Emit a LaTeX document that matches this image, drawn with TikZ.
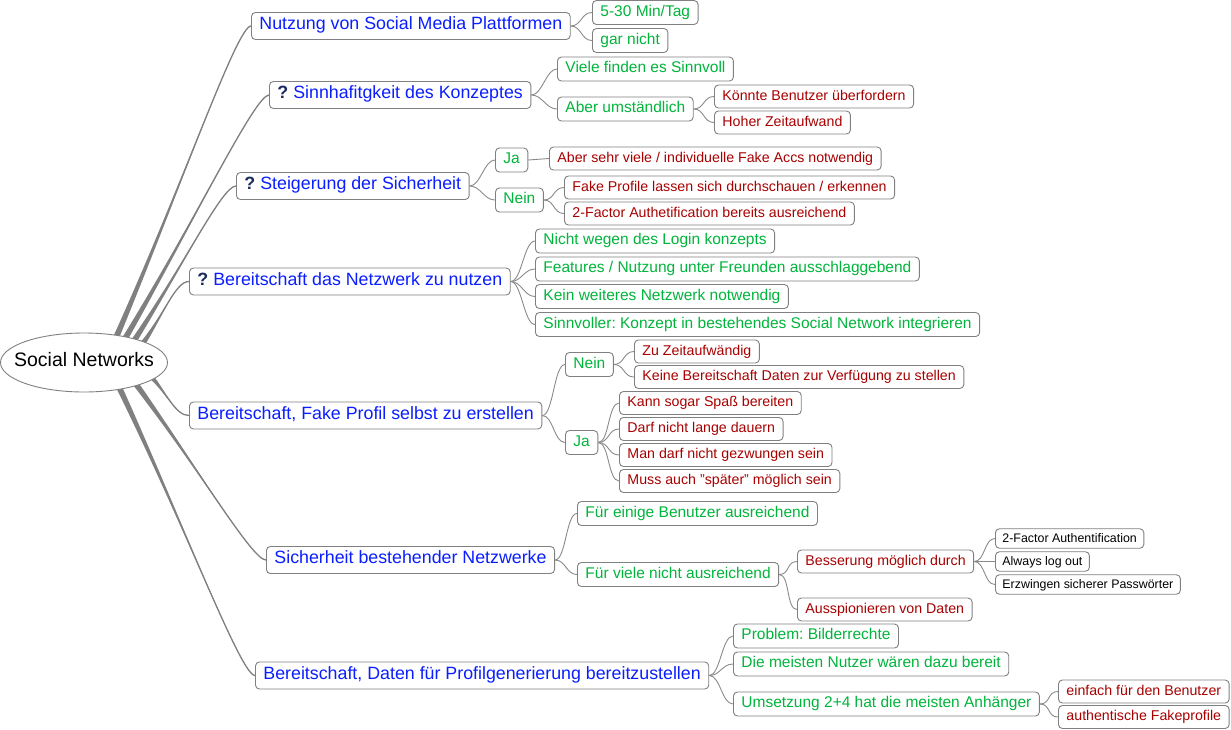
\documentclass[tikz,border=0pt]{standalone}
\usepackage{fontspec}
\setmainfont{Liberation Sans}
\usetikzlibrary{calc,backgrounds,shapes.geometric}
\definecolor{mmblue}{HTML}{0A1EFF}
\definecolor{mmgreen}{HTML}{00B53C}
\definecolor{mmred}{HTML}{A80000}
\definecolor{mmgray}{HTML}{808080}
\definecolor{mmline}{HTML}{8A8A8A}
\definecolor{mmnavy}{HTML}{1B2B5E}
\frenchspacing
\newcommand\qm{{\color{mmnavy}\bfseries ?}\hspace{5pt}}
\tikzset{
 box/.style={draw=mmgray, line width=0.9pt, rounded corners=4pt, fill=white, anchor=west,
   inner xsep=8pt, inner ysep=0pt, text height=0.8em, text depth=0.02em},
 lone/.style={box, text=mmblue, font=\fontsize{17.8pt}{20pt}\selectfont, minimum height=27pt},
 ltwo/.style={box, text=mmgreen, font=\fontsize{15.5pt}{18pt}\selectfont, minimum height=24pt},
 lthree/.style={box, text=mmred, font=\fontsize{14.2pt}{16pt}\selectfont, minimum height=23pt},
 lfour/.style={box, text=black, font=\fontsize{12.4pt}{14pt}\selectfont, minimum height=19.5pt, inner xsep=7pt},
 rootnode/.style={ellipse, draw=mmgray, line width=0.9pt, fill=white, minimum width=167pt,
   minimum height=59pt, inner sep=0pt, text height=0.8em, text depth=0.02em,
   font=\fontsize{19.5pt}{22pt}\selectfont},
 conn/.style={draw=mmline, line width=0.9pt},
}
\newcommand\sub[2]{\draw[conn] (#1.east) .. controls +(11,0) and +(-11,0) .. (#2.west);}
\newcommand\mmbranch[2]{%
 \coordinate (bs#2) at ($(root.center)!0.8!(root.#1)$);
 \fill[mmgray] ($(bs#2)!3pt!90:(#2.west)$) .. controls ($(bs#2)!0.5!(#2.west)$) and ($(#2.west)+(-14,0)$) .. (#2.west)
   .. controls ($(#2.west)+(-14,0)$) and ($(bs#2)!0.5!(#2.west)$) .. ($(bs#2)!3pt!-90:(#2.west)$) -- cycle;
 \draw[mmgray, line width=1.3pt] (bs#2) .. controls ($(bs#2)!0.5!(#2.west)$) and ($(#2.west)+(-14,0)$) .. (#2.west);}
\begin{document}
\begin{tikzpicture}[x=1pt,y=-1pt]
\useasboundingbox (0,0) rectangle (1231,729);
\node[rootnode] (root) at (84,362.5) {\makebox[0pt]{Social Networks}};

\node[lone] (A1) at (251,26) {Nutzung von Social Media Plattformen};
\node[ltwo] (A1a) at (592,12.5) {5-30 Min/Tag};
\node[ltwo] (A1b) at (592,40.5) {gar nicht};

\node[lone] (A2) at (269,95) {\qm Sinnhafitgkeit des Konzeptes};
\node[ltwo] (A2a) at (557,69) {Viele finden es Sinnvoll};
\node[ltwo] (A2b) at (557,109) {Aber umständlich};
\node[lthree] (A2b1) at (714,96.5) {Könnte Benutzer überfordern};
\node[lthree] (A2b2) at (714,122.5) {Hoher Zeitaufwand};

\node[lone] (A3) at (236,186) {\qm Steigerung der Sicherheit};
\node[ltwo] (A3a) at (495,160) {Ja};
\node[lthree] (A3a1) at (549,158.5) {Aber sehr viele / individuelle Fake Accs notwendig};
\node[ltwo] (A3b) at (495,200) {Nein};
\node[lthree] (A3b1) at (564,187.5) {Fake Profile lassen sich durchschauen / erkennen};
\node[lthree] (A3b2) at (564,213.5) {2-Factor Authetification bereits ausreichend};

\node[lone] (A4) at (189,281.5) {\qm Bereitschaft das Netzwerk zu nutzen};
\node[ltwo] (A4a) at (535,241) {Nicht wegen des Login konzepts};
\node[ltwo] (A4b) at (535,269) {Features / Nutzung unter Freunden ausschlaggebend};
\node[ltwo] (A4c) at (535,296.5) {Kein weiteres Netzwerk notwendig};
\node[ltwo] (A4d) at (535,324.5) {Sinnvoller: Konzept in bestehendes Social Network integrieren};

\node[lone] (A5) at (189,415.5) {Bereitschaft, Fake Profil selbst zu erstellen};
\node[ltwo] (A5a) at (565,364.5) {Nein};
\node[lthree] (A5a1) at (634,351.5) {Zu Zeitaufwändig};
\node[lthree] (A5a2) at (634,377) {Keine Bereitschaft Daten zur Verfügung zu stellen};
\node[ltwo] (A5b) at (565,442.5) {Ja};
\node[lthree] (A5b1) at (619,403) {Kann sogar Spaß bereiten};
\node[lthree] (A5b2) at (619,429) {Darf nicht lange dauern};
\node[lthree] (A5b3) at (619,455) {Man darf nicht gezwungen sein};
\node[lthree] (A5b4) at (619,481) {Muss auch "später" möglich sein};

\node[lone] (A6) at (266,560) {Sicherheit bestehender Netzwerke};
\node[ltwo] (A6a) at (577,513.5) {Für einige Benutzer ausreichend};
\node[ltwo] (A6b) at (577,574.5) {Für viele nicht ausreichend};
\node[lthree] (A6b1) at (797,561.5) {Besserung möglich durch};
\node[lfour] (A6b1a) at (995,538.5) {2-Factor Authentification};
\node[lfour] (A6b1b) at (995,561.5) {Always log out};
\node[lfour] (A6b1c) at (995,584.5) {Erzwingen sicherer Passwörter};
\node[lthree] (A6b2) at (797,609.5) {Ausspionieren von Daten};

\node[lone] (A7) at (255,675.5) {Bereitschaft, Daten für Profilgenerierung bereitzustellen};
\node[ltwo] (A7a) at (733,636) {Problem: Bilderrechte};
\node[ltwo] (A7b) at (733,664) {Die meisten Nutzer wären dazu bereit};
\node[ltwo] (A7c) at (733,704) {Umsetzung 2+4 hat die meisten Anhänger};
\node[lthree] (A7c1) at (1058,691.5) {einfach für den Benutzer};
\node[lthree] (A7c2) at (1058,717) {authentische Fakeprofile};

\begin{scope}[on background layer]
\mmbranch{35}{A1}
\mmbranch{27}{A2}
\mmbranch{20}{A3}
\mmbranch{14}{A4}
\mmbranch{-8}{A5}
\mmbranch{-19}{A6}
\mmbranch{-32}{A7}
\sub{A1}{A1a}\sub{A1}{A1b}
\sub{A2}{A2a}\sub{A2}{A2b}\sub{A2b}{A2b1}\sub{A2b}{A2b2}
\sub{A3}{A3a}\sub{A3}{A3b}\sub{A3a}{A3a1}\sub{A3b}{A3b1}\sub{A3b}{A3b2}
\sub{A4}{A4a}\sub{A4}{A4b}\sub{A4}{A4c}\sub{A4}{A4d}
\sub{A5}{A5a}\sub{A5}{A5b}\sub{A5a}{A5a1}\sub{A5a}{A5a2}
\sub{A5b}{A5b1}\sub{A5b}{A5b2}\sub{A5b}{A5b3}\sub{A5b}{A5b4}
\sub{A6}{A6a}\sub{A6}{A6b}\sub{A6b}{A6b1}\sub{A6b}{A6b2}
\sub{A6b1}{A6b1a}\sub{A6b1}{A6b1b}\sub{A6b1}{A6b1c}
\sub{A7}{A7a}\sub{A7}{A7b}\sub{A7}{A7c}\sub{A7c}{A7c1}\sub{A7c}{A7c2}
\end{scope}
\end{tikzpicture}
\end{document}
